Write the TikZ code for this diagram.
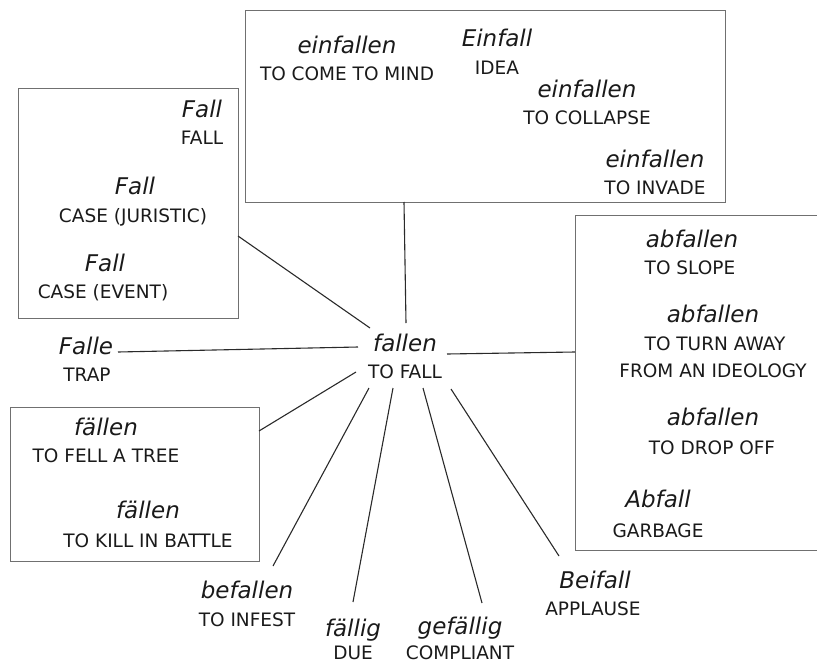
\documentclass[tikz,border=0pt]{standalone}
\usepackage{fontspec}
\setmainfont{DejaVu Sans}
\definecolor{txt}{HTML}{1A1A1A}
\definecolor{boxc}{HTML}{707070}
\definecolor{linec}{HTML}{2A2A2A}
\tikzset{
  word/.style={font=\fontsize{23}{25}\selectfont\itshape, anchor=base, inner sep=0pt, text=txt},
  gloss/.style={font=\fontsize{18.5}{20}\selectfont, anchor=base, inner sep=0pt, text=txt},
  frame/.style={draw=boxc, line width=1.3pt, anchor=north west, inner sep=0pt},
  link/.style={draw=linec, line width=1.1pt}
}
\begin{document}
\begin{tikzpicture}[x=1pt,y=-1pt]
\useasboundingbox (0,0) rectangle (817,664);
% boxes
\node[frame, minimum width=480pt, minimum height=192pt] (topbox) at (245,10) {};
\node[frame, minimum width=220pt, minimum height=230pt] (leftbox) at (18,88) {};
\node[frame, minimum width=260pt, minimum height=335pt] (rightbox) at (575,215) {};
\node[frame, minimum width=249pt, minimum height=154pt] (lowbox) at (10,407) {};
% top box
\node[word]  (w1) at (347,53) {einfallen};
\node[gloss] (g1) at (347,80) {TO COME TO MIND};
\node[word]  (w2) at (497,46) {Einfall};
\node[gloss] (g2) at (497,74) {IDEA};
\node[word]  (w3) at (587,97) {einfallen};
\node[gloss] (g3) at (587,124) {TO COLLAPSE};
\node[word]  (w4) at (655,167) {einfallen};
\node[gloss] (g4) at (655,194) {TO INVADE};
% left box
\node[word]  (w5) at (202,117) {Fall};
\node[gloss] (g5) at (202,144) {FALL};
\node[word]  (w6) at (135,194) {Fall};
\node[gloss] (g6) at (133,222) {CASE (JURISTIC)};
\node[word]  (w7) at (105,271) {Fall};
\node[gloss] (g7) at (103,298) {CASE (EVENT)};
% Falle
\node[word]  (w8) at (86,354) {Falle};
\node[gloss] (g8) at (87,381) {TRAP};
% centre
\node[word]  (c1) at (405,351) {fallen};
\node[gloss] (c2) at (405,378) {TO FALL};
% right box
\node[word]  (w9) at (692,247) {abfallen};
\node[gloss] (g9) at (690,274) {TO SLOPE};
\node[word]  (w10) at (713,322) {abfallen};
\node[gloss] (g10a) at (715,350) {TO TURN AWAY};
\node[gloss] (g10b) at (713,377) {FROM AN IDEOLOGY};
\node[word]  (w11) at (713,425) {abfallen};
\node[gloss] (g11) at (712,454) {TO DROP OFF};
\node[word]  (w12) at (658,507) {Abfall};
\node[gloss] (g12) at (658,537) {GARBAGE};
% lower left box
\node[word]  (w13) at (106,435) {fällen};
\node[gloss] (g13) at (106,462) {TO FELL A TREE};
\node[word]  (w14) at (148,518) {fällen};
\node[gloss] (g14) at (148,547) {TO KILL IN BATTLE};
% bottom words
\node[word]  (w15) at (247,598) {befallen};
\node[gloss] (g15) at (247,626) {TO INFEST};
\node[word]  (w16) at (353,636) {fällig};
\node[gloss] (g16) at (353,659) {DUE};
\node[word]  (w17) at (460,634) {gefällig};
\node[gloss] (g17) at (460,659) {COMPLIANT};
\node[word]  (w18) at (595,588) {Beifall};
\node[gloss] (g18) at (593,615) {APPLAUSE};
% connector ends
\coordinate (fT)  at (406,323);
\coordinate (fTL) at (370,328);
\coordinate (fL)  at (358,347);
\coordinate (fR)  at (447,354);
\coordinate (fLL) at (356,372);
\coordinate (fB1) at (369,388);
\coordinate (fB2) at (393,388);
\coordinate (fB3) at (423,388);
\coordinate (fB4) at (451,389);
\coordinate (eTop)   at (404,202);
\coordinate (eLeft)  at (238,236);
\coordinate (eFalle) at (118,352);
\coordinate (eRight) at (575,352);
\coordinate (eLow)   at (259,431);
\coordinate (eBef)   at (273,566);
\coordinate (eFae)   at (353,602);
\coordinate (eGef)   at (482,603);
\coordinate (eBei)   at (559,556);
\draw[link] (eTop) -- (fT);
\draw[link] (eLeft) -- (fTL);
\draw[link] (eFalle) -- (fL);
\draw[link] (fR) -- (eRight);
\draw[link] (eLow) -- (fLL);
\draw[link] (fB1) -- (eBef);
\draw[link] (fB2) -- (eFae);
\draw[link] (fB3) -- (eGef);
\draw[link] (fB4) -- (eBei);
\end{tikzpicture}
\end{document}
